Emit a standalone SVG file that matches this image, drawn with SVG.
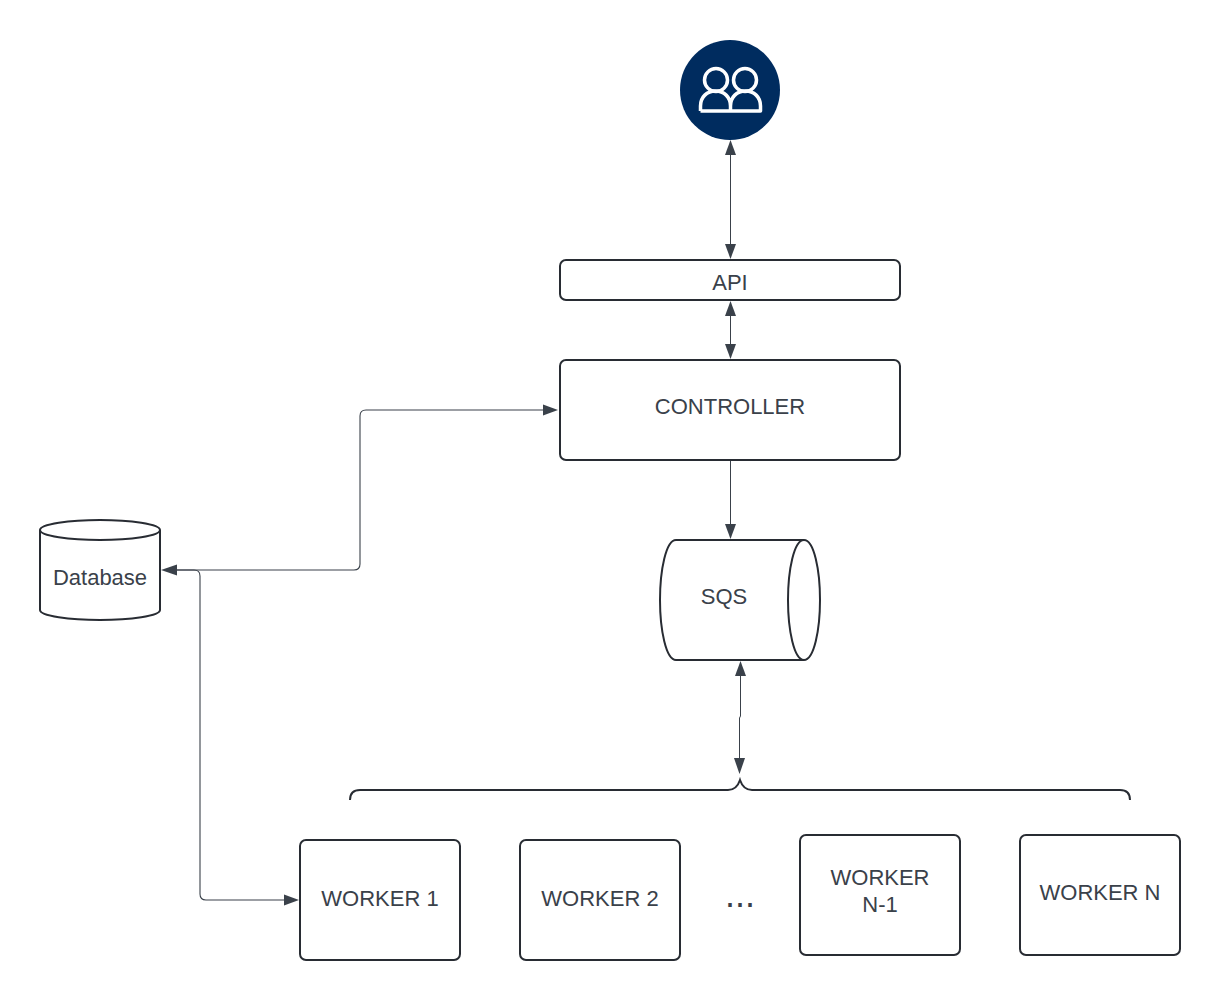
<svg xmlns="http://www.w3.org/2000/svg" width="1220" height="1000" viewBox="0 0 1220 1000">
<style>
.box{fill:#fff;stroke:#282c33;stroke-width:2}
.lbl{font-family:"Liberation Sans",Arial,sans-serif;font-size:22px;fill:#3a414a;text-anchor:middle}
.line{fill:none;stroke:#3a414a;stroke-width:1}
.thin{fill:none;stroke:#3a414a;stroke-width:1.100}
.head{fill:#3a414a;stroke:none}
.icon{fill:none;stroke:#fff;stroke-width:3.500}
</style>
<rect width="1220" height="1000" fill="#fff"/>
<g id="connectors">
<path class="line" d="M730.500 150V250"/>
<polygon class="head" points="730.500,140 736,155 725,155"/>
<polygon class="head" points="730.500,259 736,244 725,244"/>
<path class="line" d="M730.500 310V350"/>
<polygon class="head" points="730.500,301 736,316 725,316"/>
<polygon class="head" points="730.500,359 736,344 725,344"/>
<path class="line" d="M730.500 460V530"/>
<polygon class="head" points="730.500,539 736,524 725,524"/>
<path class="line" d="M740.500 670V716L739.500 718V765"/>
<polygon class="head" points="740.500,661 746,676 735,676"/>
<polygon class="head" points="739.500,774 745,758 734,758"/>
<path class="thin" d="M548 410H366Q360 410 360 416V564Q360 570 354 570H170"/>
<polygon class="head" points="558,410 543,404.500 543,415.500"/>
<polygon class="head" points="161,570 177,564.500 177,575.500"/>
<path class="thin" d="M170 570H194Q200 570 200 576V894Q200 900 206 900H290"/>
<polygon class="head" points="299,900 284,894.500 284,905.500"/>
</g>
<g id="users">
<circle cx="730" cy="90" r="50" fill="#002c5f"/>
<circle class="icon" cx="716" cy="80" r="11.500"/>
<circle class="icon" cx="745" cy="80" r="11.500"/>
<path class="icon" d="M700.500 111V106C700.500 97 707 91 715.500 91C724 91 730.500 97 730.500 106V111M730.500 106C730.500 97 737 91 745.500 91C754 91 760.500 97 760.500 106V111H700.500" stroke-linejoin="round"/>
</g>
<g id="api"><rect class="box" x="560" y="260" width="340" height="40" rx="6"/><text class="lbl" x="730" y="290">API</text></g>
<g id="controller"><rect class="box" x="560" y="360" width="340" height="100" rx="6"/><text class="lbl" x="730" y="414">CONTROLLER</text></g>
<g id="sqs">
<path class="box" d="M676 540H804C814 540 820 570 820 600C820 630 814 660 804 660H676C666 660 660 630 660 600C660 570 666 540 676 540Z"/>
<path class="box" d="M804 540C794 540 788 570 788 600C788 630 794 660 804 660" style="fill:none"/>
<text class="lbl" x="724" y="604">SQS</text>
</g>
<g id="database">
<path class="box" d="M40 530C40 524 70 520 100 520C130 520 160 524 160 530V610C160 616 130 620 100 620C70 620 40 616 40 610Z"/>
<path class="box" d="M40 530C40 536 70 540 100 540C130 540 160 536 160 530" style="fill:none"/>
<text class="lbl" x="100" y="585">Database</text>
</g>
<g id="brace"><path d="M350 800C350 794 353 790 360 790H728C734 790 738 786 740 780C742 786 746 790 752 790H1120C1127 790 1130 794 1130 800" fill="none" stroke="#282c33" stroke-width="2"/></g>
<g id="worker1"><rect class="box" x="300" y="840" width="160" height="120" rx="6"/><text class="lbl" x="380" y="906">WORKER 1</text></g>
<g id="worker2"><rect class="box" x="520" y="840" width="160" height="120" rx="6"/><text class="lbl" x="600" y="906">WORKER 2</text></g>
<g id="ellipsis"><text class="lbl" x="740" y="907" style="font-size:36px">...</text></g>
<g id="workerN1"><rect class="box" x="800" y="835" width="160" height="120" rx="6"/><text class="lbl" x="880" y="885">WORKER</text><text class="lbl" x="880" y="912">N-1</text></g>
<g id="workerN"><rect class="box" x="1020" y="835" width="160" height="120" rx="6"/><text class="lbl" x="1100" y="900">WORKER N</text></g>
</svg>
